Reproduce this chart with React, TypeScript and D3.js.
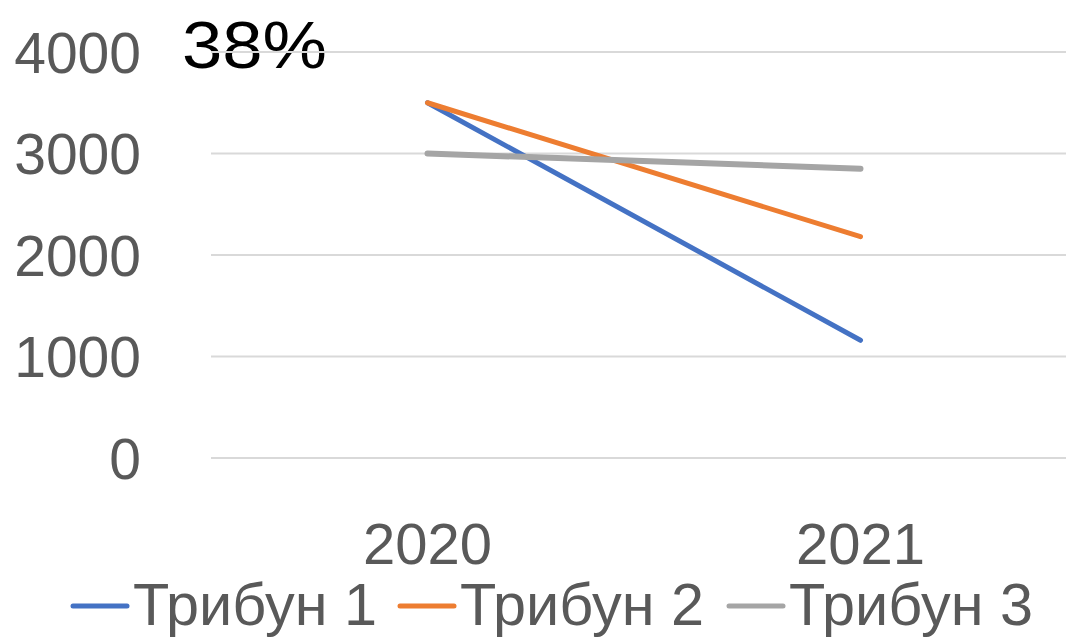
import React, { useEffect, useRef } from 'react';
import * as d3 from 'd3';

const years = ['2020', '2021'];
const seriesNames = ['Трибун 1', 'Трибун 2', 'Трибун 3'];
const tribune1 = [3500, 1160];
const tribune2 = [3500, 2180];
const tribune3 = [3000, 2850];
const yTicks = [0, 1000, 2000, 3000, 4000];
const colors = ['#4472C4', '#ED7D31', '#A5A5A5'];

export default function App() {
  const svgRef = useRef<SVGSVGElement>(null);

  useEffect(() => {
    document.body.style.margin = '0';
    const svg = d3.select(svgRef.current);
    svg.selectAll('*').remove();

    const width = 1066;
    const height = 640;
    const font = '"Liberation Sans", Arial, sans-serif';

    const x = d3.scaleBand().domain(years).range([211, 1077]);
    const y = d3.scaleLinear().domain([0, 4000]).range([458, 52]);

    // label sits under the top gridline
    svg.append('text')
      .attr('x', 182)
      .attr('y', 68)
      .attr('font-family', font)
      .attr('font-size', 66)
      .attr('fill', '#000')
      .attr('textLength', 145)
      .attr('lengthAdjust', 'spacingAndGlyphs')
      .text('38%');

    // grid
    svg.append('g')
      .selectAll('line')
      .data(yTicks)
      .join('line')
      .attr('x1', 211)
      .attr('x2', width)
      .attr('y1', d => y(d))
      .attr('y2', d => y(d))
      .attr('stroke', '#d9d9d9')
      .attr('stroke-width', 2);

    // y labels
    svg.append('g')
      .selectAll('text')
      .data(yTicks)
      .join('text')
      .attr('x', 141)
      .attr('y', d => y(d))
      .attr('dy', '0.36em')
      .attr('text-anchor', 'end')
      .attr('font-family', font)
      .attr('font-size', 57)
      .attr('fill', '#595959')
      .text(d => String(d));

    // x labels
    svg.append('g')
      .selectAll('text')
      .data(years)
      .join('text')
      .attr('x', d => (x(d) ?? 0) + x.bandwidth() / 2)
      .attr('y', 564)
      .attr('text-anchor', 'middle')
      .attr('font-family', font)
      .attr('font-size', 58)
      .attr('fill', '#595959')
      .text(d => d);

    const data = [tribune1, tribune2, tribune3];
    const line = d3.line<number>()
      .x((_, i) => (x(years[i]) ?? 0) + x.bandwidth() / 2)
      .y(d => y(d));

    data.forEach((s, i) => {
      svg.append('path')
        .attr('d', line(s))
        .attr('fill', 'none')
        .attr('stroke', colors[i])
        .attr('stroke-width', i === 2 ? 6 : 5)
        .attr('stroke-linecap', 'round');
    });

    // legend
    const legendX = [71, 398, 727];
    const legend = svg.append('g');
    seriesNames.forEach((name, i) => {
      legend.append('line')
        .attr('x1', legendX[i] + 2)
        .attr('x2', legendX[i] + 56)
        .attr('y1', 606)
        .attr('y2', 606)
        .attr('stroke', colors[i])
        .attr('stroke-width', 5)
        .attr('stroke-linecap', 'round');
      legend.append('text')
        .attr('x', legendX[i] + 62)
        .attr('y', 625)
        .attr('font-family', font)
        .attr('font-size', 60)
        .attr('fill', '#595959')
        .attr('textLength', 244)
        .attr('lengthAdjust', 'spacingAndGlyphs')
        .text(name);
    });

    svg.attr('width', width).attr('height', height);
  }, []);

  return (
    <svg ref={svgRef} style={{ position: 'absolute', left: 0, top: 0, background: '#fff' }} />
  );
}
